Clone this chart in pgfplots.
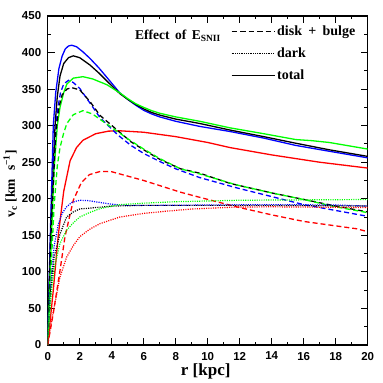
\documentclass[border=0pt]{standalone}
\usepackage{fontspec}
\setmainfont{Liberation Serif}
\setsansfont{Liberation Sans}
\usepackage{pgfplots}
\pgfplotsset{compat=1.18}
\usetikzlibrary{calc}
\definecolor{cgreen}{rgb}{0,1,0}
\definecolor{cblue}{rgb}{0,0,1}
\definecolor{cred}{rgb}{1,0,0}
\begin{document}
\begin{tikzpicture}
\begin{axis}[
  name=ax,
  scale only axis,
  width=320pt, height=329pt,
  xmin=0, xmax=20, ymin=0, ymax=450,
  xtick={0,2,...,20}, ytick={0,50,...,450},
  minor x tick num=1, minor y tick num=1,
  tick align=inside,
  major tick length=7pt, minor tick length=3.5pt,
  every tick/.style={black, line width=0.9pt},
  axis line style={line width=1.2pt},
  /pgf/number format/assume math mode=true,
  ticklabel style={font=\sffamily\bfseries\fontsize{11.5}{13}\selectfont},
  yticklabel style={xshift=-3pt},
  xticklabel style={yshift=-3.5pt},
  xlabel={}, ylabel={},
  legend style={draw=none, fill=none, at={(axis description cs:0.563,0.985)}, anchor=north west,
    font=\bfseries\fontsize{14}{16}\selectfont, row sep=5pt,
    nodes={text height=10pt, text depth=3pt}},
  legend cell align=left,
  legend image code/.code={\draw[#1] (0pt,0pt) -- (43pt,0pt);},
  every axis plot/.append style={line width=1.3pt},
]
\addlegendimage{black, line width=1.1pt, dash pattern=on 5.5pt off 3pt}
\addlegendentry{disk\hspace{0.45em}+\hspace{0.45em}bulge}
\addlegendimage{black, line width=0.8pt, dash pattern=on 0.8pt off 1pt}
\addlegendentry{dark}
\addlegendimage{black, line width=1.1pt}
\addlegendentry{total}

% ---------- totals (solid)
\addplot[cblue, forget plot] coordinates {(0,0)(0.1,95)(0.2,180)(0.35,300)(0.5,345)(0.7,378)(0.9,395)(1.1,405)(1.3,409)(1.5,410)(1.8,408)(2.2,401)(2.64,392)(3.2,379)(3.7,366)(4.5,345)(5,336)(5.5,328)(6,321)(6.5,316)(7,312)(8,306)(9.5,299)(11.4,292)(13.5,283)(15.5,273)(17.6,265)(20,256)};
\addplot[black, forget plot] coordinates {(0,0)(0.1,85)(0.2,165)(0.46,300)(0.6,340)(0.77,368)(1.0,385)(1.3,393)(1.6,395.5)(2.0,393)(2.64,383)(3.2,372)(3.7,361)(4.5,344)(5,336)(5.5,329)(6,323)(6.5,318)(7,314.5)(8,309)(9.5,303)(11.4,294)(13.5,285)(15.5,276)(17.6,267)(20,258)};
\addplot[cgreen, forget plot] coordinates {(0,0)(0.1,65)(0.2,130)(0.4,240)(0.6,300)(0.77,325)(1.0,345)(1.2,357)(1.6,365)(2.2,367)(2.8,364)(3.7,356)(4.5,345)(5,337)(5.5,330)(6,325)(6.5,320.5)(7,317)(8,312)(9.5,306)(11.4,297)(13.5,289)(15.5,281)(16.5,279.5)(17.6,277)(20,268)};
\addplot[cred, forget plot] coordinates {(0,0)(0.35,75)(0.66,150)(1.0,210)(1.4,252)(1.8,270)(2.2,280)(3.0,289)(3.8,292.5)(4.5,293)(6,291)(8,285)(10,277)(11.4,270)(14,260)(17,250)(20,242)};

% ---------- disk + bulge (dashed)
\addplot[cblue, forget plot, dash pattern=on 5pt off 3pt] coordinates {(0,0)(0.2,160)(0.4,265)(0.6,320)(0.8,345)(1.0,357)(1.3,362)(1.6,359)(2.0,351)(2.64,331)(3.27,311)(4.4,287)(5.2,273)(6,262)(7,251)(8,241)(9.5,229)(11.8,215)(14,203)(16,192)(18,184)(20,176)};
\addplot[black, forget plot, dash pattern=on 5pt off 3pt] coordinates {(0,0)(0.2,150)(0.5,290)(0.7,325)(0.9,342)(1.2,350)(1.5,352)(2.0,349)(2.64,333)(3.27,314)(4.5,291)(5.2,278)(6,267)(7,254)(8.3,241)(9.5,235)(11.4,221)(14,208)(15.8,200)(18,190)(20,182)};
\addplot[cgreen, forget plot, dash pattern=on 5pt off 3pt] coordinates {(0,0)(0.2,100)(0.4,190)(0.6,245)(0.77,270)(1.0,290)(1.2,303)(1.6,315)(2.2,320.5)(2.8,316)(3.7,302)(4.3,293)(5,282)(6,268)(7,255)(8.3,241)(9.5,234)(11.8,219)(14,208)(16,199)(18,189)(20,181)};
\addplot[cred, forget plot, dash pattern=on 5pt off 3pt] coordinates {(0,0)(0.35,43.5)(0.77,102)(1.08,148)(1.6,198)(2.1,222)(2.6,233)(3.3,237.5)(4,237)(4.5,234)(6,225)(8.3,209)(9.5,202)(11.8,189)(14,178)(16,169)(19.3,159)(20,155)};

% ---------- dark (dotted)
\addplot[cblue, forget plot, line width=1.2pt, dash pattern=on 1.1pt off 1.2pt] coordinates {(0,0)(0.1,45)(0.2,85)(0.4,135)(0.66,165)(0.9,180)(1.18,189)(1.5,195)(2.0,198)(2.5,197.5)(3.27,195)(4,192.5)(5,191)(7,191)(10,191.5)(14,192)(18,191.5)(20,190)};
\addplot[black, forget plot, line width=1.2pt, dash pattern=on 1.1pt off 1.2pt] coordinates {(0,0)(0.1,40)(0.2,75)(0.4,120)(0.77,152)(1.18,175)(1.6,182)(2.0,186)(3.27,188.5)(4,190)(6,191)(10,191)(14,191)(20,190)};
\addplot[cgreen, forget plot, line width=1.2pt, dash pattern=on 1.1pt off 1.2pt] coordinates {(0,0)(0.1,35)(0.2,65)(0.4,105)(0.77,139)(1.18,157)(1.6,167)(2.0,175)(2.6,181)(3.27,186.5)(4.5,192)(6,194)(8,196)(12,198)(16,198.5)(20,199)};
\addplot[cred, forget plot, line width=1.2pt, dash pattern=on 1.1pt off 1.2pt] coordinates {(0,0)(0.3,40)(0.77,93)(1.18,120)(1.6,136)(2.0,148)(2.6,158)(3.27,166)(4.5,175)(6,180)(7.4,183)(9,186)(11.8,188.7)(14,189)(17,188.5)(20,188)};

\node[anchor=base west, font=\bfseries\fontsize{13.5}{15}\selectfont] at (axis description cs:0.2625,0.930) {Effect\hspace{0.4em}of\hspace{0.4em}E\textsubscript{SNII}};
\end{axis}
\node[anchor=base, inner sep=0pt, font=\bfseries\fontsize{17}{19}\selectfont] at ($(ax.south west)+(158pt,-30pt)$) {r [kpc]};
\node[rotate=90, anchor=center, font=\bfseries\fontsize{13.5}{16}\selectfont] at ($(ax.south west)+(-37.5pt,161pt)$) {v\textsubscript{c}\hspace{0.3em}[km\hspace{0.6em}s\textsuperscript{−1}]};
\path ($(ax.south west)+(-47.7pt,-38pt)$) rectangle ($(ax.north east)+(15.3pt,16pt)$);
\end{tikzpicture}
\end{document}
